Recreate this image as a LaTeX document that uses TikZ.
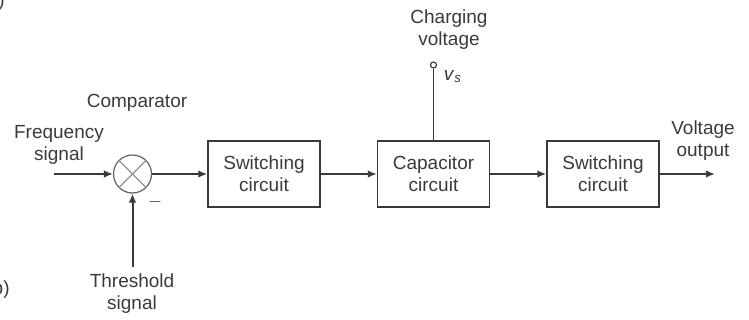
\documentclass[tikz,border=0pt]{standalone}
\usepackage{fontspec}
\setmainfont{Liberation Sans}
\usetikzlibrary{arrows.meta}
\definecolor{ink}{HTML}{3A3A3A}
\begin{document}
\begin{tikzpicture}[x=0.5pt,y=0.5pt,
  font=\fontsize{9.5}{11}\selectfont, text=ink,
  block/.style={draw=ink, line width=0.7pt, minimum width=56pt, minimum height=33pt, align=center},
  sig/.style={draw=ink, line width=1pt, -{Latex[length=4.5pt,width=3.8pt]}},
  lbl/.style={align=center, inner sep=0pt}]
  \clip (0,0) rectangle (749,320);

  % Comparator
  \node[circle, draw=ink!80, line width=0.6pt, minimum size=19pt, inner sep=0pt] (cmp) at (132.5,146) {};
  \draw[ink!55, line width=0.6pt] (cmp.north west) -- (cmp.south east);
  \draw[ink!55, line width=0.6pt] (cmp.north east) -- (cmp.south west);
  \node[lbl] (cmplbl) at (137,217) {Comparator};
  \node[lbl] (minus) at (155,118) {$-$};

  % Inputs
  \coordinate (fin) at (54,146);
  \node[lbl] (finlbl) at (59,175) {Frequency\\signal};
  \coordinate (thin) at (132.5,53);
  \node[lbl] (thinlbl) at (132,26) {Threshold\\signal};

  % Blocks
  \node[block] (sw1) at (264,146) {Switching\\circuit};
  \node[block] (cap) at (433.5,146) {Capacitor\\circuit};
  \node[block] (sw2) at (603,146) {Switching\\circuit};

  % Charging voltage
  \node[circle, draw=ink, line width=0.6pt, minimum size=3pt, inner sep=0pt] (vs) at (433.5,255) {};
  \node[lbl] (vslbl) at (453,243) {\textit{v}\textsubscript{\textit{s}}};
  \node[lbl] (chglbl) at (449,290) {Charging\\voltage};
  \draw[ink, line width=0.7pt] (vs) -- (cap);

  % Output
  \coordinate (out) at (715,146);
  \node[lbl] (outlbl) at (703,179) {Voltage\\output};

  % Signal path
  \draw[sig] (fin) -- (cmp);
  \draw[sig] (thin) -- (cmp);
  \draw[sig] (cmp) -- (sw1);
  \draw[sig] (sw1) -- (cap);
  \draw[sig] (cap) -- (sw2);
  \draw[sig] (sw2) -- (out);

  % Part labels (cut at the edge)
  \node[lbl, anchor=east] (parta) at (5,318) {(a)};
  \node[lbl, anchor=east] (partb) at (10,30) {(b)};
\end{tikzpicture}
\end{document}
